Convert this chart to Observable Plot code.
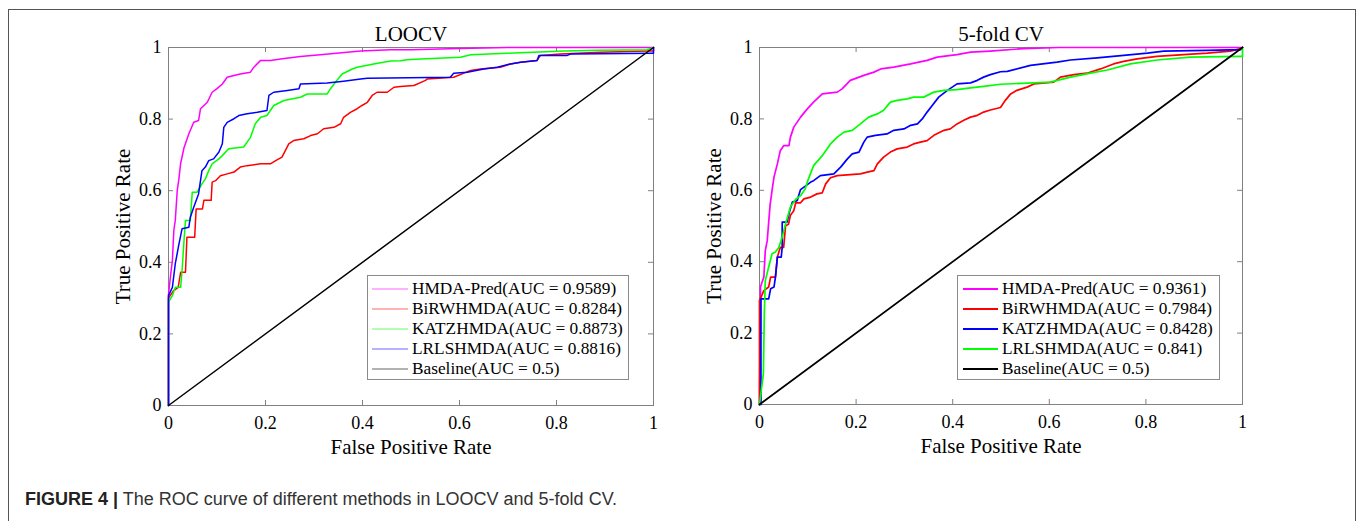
<!DOCTYPE html>
<html>
<head>
<meta charset="utf-8">
<script src="https://cdn.jsdelivr.net/npm/d3@7"></script>
<script src="https://cdn.jsdelivr.net/npm/@observablehq/plot@0.6"></script>
<style>
  html, body { margin: 0; padding: 0; background: #fff; }
  #fig { position: relative; width: 1358px; height: 521px; overflow: hidden; background: #fff; }
  .frame { position: absolute; left: 8px; top: 9px; width: 1346px; height: 530px;
           border-top: 1.5px solid #555; border-left: 1.5px solid #555; border-right: 1.5px solid #555; }
  .panel { position: absolute; top: 0; }
  .legend { position: absolute; background: #fff; border: 1px solid #8a8a8a; box-sizing: border-box;
            font-family: "Liberation Serif", "Times New Roman", serif; font-size: 17.3px; color: #000; padding-top: 3px; }
  .legend .row { height: 20px; display: flex; align-items: center; white-space: nowrap; }
  .legend svg { flex: none; }
  .caption { position: absolute; left: 25px; top: 489px; font-family: "Liberation Sans", Arial, sans-serif;
             font-size: 18px; color: #333; white-space: nowrap; }
  .caption b { color: #222; }
</style>
</head>
<body>
<div id="fig">
  <div class="frame"></div>
  <div class="caption"><b>FIGURE 4 |</b> The ROC curve of different methods in LOOCV and 5-fold CV.</div>
</div>
<script>
// ---------- tick values ----------
const tickValues = [0, 0.2, 0.4, 0.6, 0.8, 1];
const tickLabels = ["0", "0.2", "0.4", "0.6", "0.8", "1"];

// ---------- panel titles / labels ----------
const panelTitles = ["LOOCV", "5-fold CV"];
const xLabel = "False Positive Rate";
const yLabel = "True Positive Rate";

// ---------- LOOCV series ([FPR, TPR]) ----------
const loocvHMDAPred = [[0,0],[0,0.31],[0.004,0.36],[0.008,0.405],[0.011,0.489],[0.014,0.517],[0.018,0.60],[0.021,0.628],[0.025,0.676],[0.032,0.72],[0.042,0.759],[0.052,0.791],[0.062,0.796],[0.066,0.829],[0.080,0.847],[0.090,0.875],[0.100,0.885],[0.111,0.898],[0.121,0.917],[0.135,0.922],[0.148,0.926],[0.169,0.931],[0.176,0.945],[0.190,0.964],[0.21,0.964],[0.231,0.968],[0.272,0.975],[0.313,0.980],[0.396,0.990],[0.458,0.994],[0.5,0.994],[0.6,0.997],[0.7,1],[1,1]];
const loocvBiRWHMDA = [[0,0],[0,0.30],[0.01,0.32],[0.02,0.33],[0.025,0.372],[0.035,0.372],[0.038,0.47],[0.054,0.47],[0.057,0.549],[0.07,0.549],[0.073,0.573],[0.088,0.573],[0.09,0.624],[0.097,0.628],[0.107,0.642],[0.121,0.647],[0.135,0.652],[0.148,0.666],[0.162,0.670],[0.19,0.675],[0.21,0.675],[0.221,0.684],[0.234,0.694],[0.248,0.731],[0.258,0.740],[0.279,0.745],[0.293,0.754],[0.307,0.759],[0.320,0.773],[0.341,0.777],[0.355,0.787],[0.361,0.805],[0.375,0.819],[0.389,0.829],[0.399,0.838],[0.41,0.847],[0.42,0.866],[0.43,0.875],[0.451,0.875],[0.465,0.889],[0.478,0.891],[0.506,0.894],[0.530,0.908],[0.533,0.912],[0.588,0.917],[0.623,0.936],[0.643,0.94],[0.684,0.945],[0.705,0.954],[0.726,0.959],[0.76,0.964],[0.767,0.978],[0.808,0.982],[0.891,0.987],[0.987,0.99],[1,0.99],[1,1]];
const loocvKATZHMDA = [[0,0],[0,0.289],[0.008,0.307],[0.014,0.33],[0.025,0.33],[0.028,0.377],[0.032,0.461],[0.035,0.517],[0.045,0.517],[0.049,0.596],[0.059,0.596],[0.069,0.619],[0.076,0.633],[0.083,0.656],[0.09,0.675],[0.104,0.689],[0.111,0.698],[0.124,0.717],[0.155,0.722],[0.169,0.749],[0.179,0.787],[0.19,0.805],[0.203,0.81],[0.217,0.838],[0.238,0.852],[0.272,0.861],[0.286,0.87],[0.327,0.87],[0.334,0.885],[0.347,0.908],[0.358,0.926],[0.379,0.94],[0.389,0.945],[0.423,0.954],[0.458,0.962],[0.478,0.963],[0.492,0.966],[0.52,0.968],[0.602,0.973],[0.623,0.98],[0.698,0.984],[0.815,0.99],[0.891,0.992],[0.987,0.994],[1,1]];
const loocvLRLSHMDA = [[0,0],[0,0.307],[0.008,0.33],[0.014,0.396],[0.021,0.447],[0.028,0.494],[0.042,0.498],[0.045,0.526],[0.052,0.554],[0.062,0.591],[0.069,0.656],[0.076,0.666],[0.083,0.684],[0.093,0.689],[0.104,0.708],[0.111,0.731],[0.114,0.777],[0.121,0.791],[0.135,0.801],[0.145,0.81],[0.162,0.815],[0.183,0.819],[0.203,0.824],[0.207,0.866],[0.217,0.875],[0.245,0.880],[0.269,0.885],[0.272,0.898],[0.327,0.901],[0.361,0.906],[0.396,0.912],[0.41,0.914],[0.581,0.917],[0.588,0.928],[0.616,0.931],[0.65,0.94],[0.678,0.945],[0.705,0.954],[0.726,0.959],[0.76,0.964],[0.764,0.978],[0.822,0.978],[0.829,0.982],[0.997,0.984],[1,0.984],[1,1]];

// ---------- 5-fold CV series ([FPR, TPR]) ----------
const cv5HMDAPred = [[0,0],[0.002,0.30],[0.002,0.329],[0.009,0.357],[0.012,0.431],[0.016,0.459],[0.019,0.51],[0.022,0.56],[0.026,0.60],[0.030,0.637],[0.037,0.674],[0.043,0.711],[0.05,0.725],[0.061,0.725],[0.064,0.749],[0.071,0.777],[0.085,0.805],[0.099,0.828],[0.112,0.847],[0.13,0.870],[0.161,0.875],[0.171,0.884],[0.188,0.908],[0.216,0.922],[0.237,0.931],[0.251,0.94],[0.278,0.945],[0.313,0.954],[0.347,0.964],[0.368,0.973],[0.409,0.98],[0.437,0.987],[0.478,0.99],[0.547,0.997],[0.62,1],[1,1]];
const cv5BiRWHMDA = [[0,0],[0,0.291],[0.009,0.319],[0.019,0.329],[0.023,0.357],[0.033,0.357],[0.037,0.413],[0.043,0.44],[0.05,0.44],[0.054,0.501],[0.06,0.505],[0.064,0.53],[0.071,0.543],[0.075,0.565],[0.085,0.565],[0.092,0.576],[0.106,0.581],[0.119,0.590],[0.13,0.593],[0.137,0.618],[0.147,0.635],[0.161,0.641],[0.188,0.644],[0.209,0.646],[0.223,0.651],[0.237,0.655],[0.244,0.674],[0.257,0.693],[0.271,0.707],[0.285,0.716],[0.306,0.721],[0.319,0.730],[0.333,0.735],[0.347,0.739],[0.361,0.754],[0.382,0.768],[0.395,0.772],[0.409,0.786],[0.423,0.796],[0.437,0.805],[0.451,0.81],[0.464,0.819],[0.478,0.825],[0.499,0.832],[0.509,0.852],[0.52,0.87],[0.533,0.88],[0.554,0.889],[0.568,0.898],[0.609,0.903],[0.623,0.917],[0.651,0.924],[0.678,0.928],[0.706,0.94],[0.733,0.954],[0.754,0.961],[0.782,0.968],[0.823,0.975],[0.878,0.98],[0.927,0.984],[0.975,0.99],[0.996,0.997],[1,1]];
const cv5KATZHMDA = [[0,0],[0.003,0],[0.003,0.296],[0.019,0.296],[0.023,0.324],[0.03,0.329],[0.033,0.357],[0.037,0.413],[0.045,0.413],[0.047,0.44],[0.047,0.511],[0.057,0.511],[0.061,0.534],[0.068,0.567],[0.078,0.571],[0.081,0.585],[0.085,0.602],[0.092,0.609],[0.106,0.623],[0.112,0.627],[0.126,0.641],[0.154,0.646],[0.168,0.665],[0.182,0.688],[0.192,0.702],[0.206,0.707],[0.216,0.735],[0.223,0.749],[0.24,0.754],[0.264,0.758],[0.278,0.768],[0.299,0.772],[0.313,0.782],[0.327,0.786],[0.337,0.80],[0.347,0.819],[0.358,0.838],[0.371,0.861],[0.389,0.88],[0.409,0.898],[0.437,0.901],[0.451,0.908],[0.464,0.917],[0.478,0.924],[0.499,0.932],[0.513,0.933],[0.561,0.950],[0.616,0.959],[0.644,0.965],[0.699,0.971],[0.754,0.978],[0.803,0.984],[0.837,0.99],[0.927,0.992],[0.996,0.994],[1,1]];
const cv5LRLSHMDA = [[0,0],[0.008,0.086],[0.010,0.255],[0.012,0.347],[0.019,0.385],[0.026,0.422],[0.033,0.427],[0.04,0.44],[0.047,0.469],[0.054,0.506],[0.064,0.553],[0.075,0.575],[0.085,0.585],[0.095,0.605],[0.10,0.627],[0.112,0.669],[0.13,0.697],[0.147,0.73],[0.161,0.749],[0.175,0.763],[0.192,0.768],[0.209,0.786],[0.226,0.805],[0.244,0.814],[0.257,0.824],[0.271,0.847],[0.285,0.852],[0.306,0.856],[0.319,0.861],[0.34,0.861],[0.361,0.875],[0.382,0.88],[0.409,0.882],[0.437,0.887],[0.464,0.891],[0.499,0.897],[0.602,0.903],[0.644,0.917],[0.685,0.928],[0.72,0.937],[0.768,0.954],[0.823,0.965],[0.892,0.973],[0.996,0.975],[1,0.975],[1,1]];

const baseline = [[0,0],[1,1]];

// ---------- legends ----------
const loocvNames = ["HMDA-Pred", "BiRWHMDA", "KATZHMDA", "LRLSHMDA", "Baseline"];
const loocvAUC = ["0.9589", "0.8284", "0.8873", "0.8816", "0.5"];
const loocvColors = ["#ff00ff", "#ff0000", "#00ff00", "#0000ff", "#000000"];
const cv5Names = ["HMDA-Pred", "BiRWHMDA", "KATZHMDA", "LRLSHMDA", "Baseline"];
const cv5AUC = ["0.9361", "0.7984", "0.8428", "0.841", "0.5"];
const cv5Colors = ["#ff00ff", "#ff0000", "#0000ff", "#00ff00", "#000000"];

const axisGray = "#808080";

function makePanel({title, series, colors, left, marginLeft, marginRight, marginBottom, lineWidth}) {
  const W = 679, H = 465;
  const marks = [
    Plot.frame({stroke: axisGray, strokeWidth: 1}),
    // inward ticks (bottom, top, left, right)
    Plot.ruleX(tickValues, {x: d => d, y1: 0, y2: 0.014, stroke: axisGray}),
    Plot.ruleX(tickValues, {x: d => d, y1: 1, y2: 0.986, stroke: axisGray}),
    Plot.ruleY(tickValues, {y: d => d, x1: 0, x2: 0.0103, stroke: axisGray}),
    Plot.ruleY(tickValues, {y: d => d, x1: 1, x2: 0.9897, stroke: axisGray}),
    Plot.axisX(tickValues, {tickSize: 0, tickPadding: 11, tickFormat: (d, i) => tickLabels[i], label: null, fontSize: 18}),
    Plot.axisY(tickValues, {tickSize: 0, tickPadding: 7, tickFormat: (d, i) => tickLabels[i], label: null, fontSize: 18}),
    Plot.text([title], {frameAnchor: "top", lineAnchor: "middle", textAnchor: "middle", dy: -13, fontSize: 21}),
    Plot.text([xLabel], {frameAnchor: "bottom", lineAnchor: "middle", textAnchor: "middle", dy: 42, fontSize: 21}),
    Plot.text([yLabel], {frameAnchor: "left", lineAnchor: "middle", textAnchor: "middle", dx: -45, rotate: -90, fontSize: 21}),
  ];
  series.forEach((pts, i) => {
    marks.push(Plot.line(pts, {x: d => d[0], y: d => d[1], stroke: colors[i], strokeWidth: lineWidth}));
  });
  marks.push(Plot.line(baseline, {x: d => d[0], y: d => d[1], stroke: "#000", strokeWidth: lineWidth}));
  const svg = Plot.plot({
    width: W, height: H,
    marginLeft, marginRight, marginTop: 47, marginBottom,
    x: {domain: [0, 1]},
    y: {domain: [0, 1]},
    style: {fontFamily: "'Liberation Serif', 'Times New Roman', serif", color: "#000", background: "transparent", overflow: "visible"},
    marks
  });
  svg.classList.add("panel");
  svg.style.left = left + "px";
  svg.style.position = "absolute";
  svg.style.top = "0px";
  return svg;
}

function makeLegend({names, auc, colors, left, top, width, swatchX0, swatchX1, swatchWidth, swatchOpacity}) {
  const div = document.createElement("div");
  div.className = "legend";
  div.style.left = left + "px";
  div.style.top = top + "px";
  div.style.width = width + "px";
  div.style.height = "105px";
  names.forEach((n, i) => {
    const row = document.createElement("div");
    row.className = "row";
    const sw = document.createElementNS("http://www.w3.org/2000/svg", "svg");
    sw.setAttribute("width", 44);
    sw.setAttribute("height", 20);
    const ln = document.createElementNS("http://www.w3.org/2000/svg", "line");
    ln.setAttribute("x1", swatchX0); ln.setAttribute("x2", swatchX1);
    ln.setAttribute("y1", 10); ln.setAttribute("y2", 10);
    ln.setAttribute("stroke", colors[i]);
    ln.setAttribute("stroke-width", swatchWidth);
    ln.setAttribute("stroke-opacity", swatchOpacity);
    sw.appendChild(ln);
    row.appendChild(sw);
    const t = document.createElement("span");
    t.textContent = `${n}(AUC = ${auc[i]})`;
    row.appendChild(t);
    div.appendChild(row);
  });
  return div;
}

const fig = document.getElementById("fig");
fig.appendChild(makePanel({
  title: panelTitles[0],
  series: [loocvHMDAPred, loocvBiRWHMDA, loocvKATZHMDA, loocvLRLSHMDA],
  colors: loocvColors, left: 0, marginLeft: 168, marginRight: 26, marginBottom: 60, lineWidth: 1.5
}));
fig.appendChild(makePanel({
  title: panelTitles[1],
  series: [cv5HMDAPred, cv5BiRWHMDA, cv5KATZHMDA, cv5LRLSHMDA],
  colors: cv5Colors, left: 679, marginLeft: 80, marginRight: 116, marginBottom: 61, lineWidth: 1.7
}));
fig.appendChild(makeLegend({names: loocvNames, auc: loocvAUC, colors: loocvColors,
  left: 367, top: 275, width: 262, swatchX0: 4, swatchX1: 40, swatchWidth: 1.2, swatchOpacity: 0.6}));
fig.appendChild(makeLegend({names: cv5Names, auc: cv5AUC, colors: cv5Colors,
  left: 957, top: 275, width: 263, swatchX0: 5, swatchX1: 40, swatchWidth: 2, swatchOpacity: 1}));
</script>
</body>
</html>
